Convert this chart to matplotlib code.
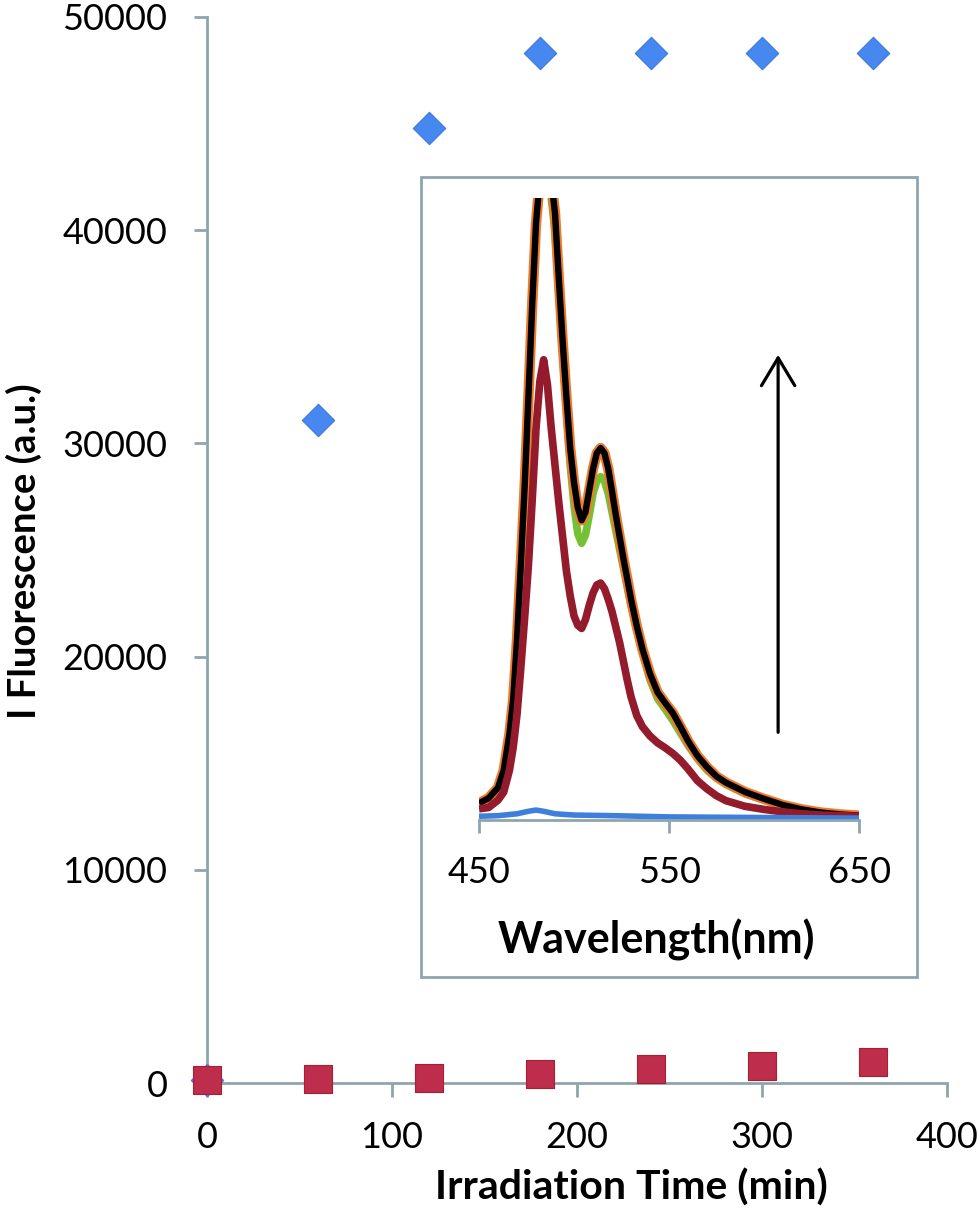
import matplotlib
matplotlib.use('Agg')
import matplotlib.pyplot as plt
from matplotlib.patches import Rectangle

plt.rcParams['font.family'] = ['Lato', 'DejaVu Sans']

# main chart data
time_min = [0, 60, 120, 180, 240, 300, 360]
fluor_blue = [150, 31100, 44800, 48300, 48300, 48300, 48300]
fluor_red = [120, 170, 250, 420, 670, 800, 980]

# inset spectra
wavelength = [450, 455, 460, 463, 466, 468, 470, 472, 474, 476, 478, 480, 482, 484, 486, 488,
              490, 492, 494, 496, 498, 500, 502, 504, 506, 508, 510, 512, 514, 516, 518, 520,
              522, 524, 526, 528, 530, 533, 536, 540, 544, 548, 552, 556, 560, 565, 570, 575,
              580, 590, 600, 610, 620, 630, 640, 650]
spec_final = [27, 35, 52, 80, 138, 195, 290, 410, 535, 680, 830, 960, 1030, 1080, 1070, 1030,
              975, 870, 770, 680, 597, 542, 502, 482, 495, 530, 565, 590, 598, 590, 565, 528,
              490, 455, 420, 388, 355, 312, 275, 235, 205, 188, 172, 150, 127, 103, 85, 70,
              60, 45, 34, 24, 17, 12, 9, 7]
spec_green = [27, 35, 52, 80, 138, 195, 290, 410, 535, 680, 825, 950, 1010, 1050, 1040, 1000,
              945, 845, 750, 660, 570, 505, 460, 445, 458, 490, 525, 545, 552, 545, 525, 495,
              465, 435, 405, 375, 345, 305, 268, 225, 195, 178, 160, 140, 120, 98, 80, 67,
              57, 42, 32, 23, 16, 11, 8, 6]
spec_red = [18, 20, 32, 45, 80, 117, 170, 245, 325, 410, 515, 630, 705, 740, 700, 630,
            570, 510, 455, 400, 360, 328, 313, 308, 322, 345, 365, 378, 381, 372, 355, 335,
            310, 285, 255, 225, 198, 168, 150, 135, 124, 116, 107, 96, 82, 63, 50, 39,
            31, 22, 17, 13, 10, 8, 7, 6]
wl_blank = [450, 460, 470, 476, 480, 484, 490, 500, 520, 550, 600, 650]
spec_blank = [6, 7, 10, 14, 16, 14, 10, 8, 7, 5, 4, 3]

axis_gray = '#8fa5ae'

fig = plt.figure(figsize=(9.8, 12.15), dpi=100)
ax = fig.add_axes([0.2112, 0.10864, 0.7551, 0.87737])

ax.scatter(time_min, fluor_blue, marker='D', s=16.5**2, color='#4687f0',
           edgecolor='#3d79dc', linewidth=0.8, zorder=3, clip_on=False)
ax.scatter(time_min, fluor_red, marker='s', s=20**2, color='#be2d4b',
           edgecolor='#a8202f', linewidth=0.8, zorder=4, clip_on=False)

ax.set_xlim(0, 400)
ax.set_ylim(0, 50000)
ax.set_xticks([0, 100, 200, 300, 400])
ax.set_yticks([0, 10000, 20000, 30000, 40000, 50000])
for s in ['top', 'right']:
    ax.spines[s].set_visible(False)
for s in ['left', 'bottom']:
    ax.spines[s].set_color(axis_gray)
    ax.spines[s].set_linewidth(2)
ax.tick_params(axis='both', colors=axis_gray, width=2, labelsize=26, labelcolor='black')
ax.tick_params(axis='y', length=9.5, pad=19)
ax.tick_params(axis='x', length=10, pad=17)
ax.set_xlabel('Irradiation Time (min)', fontsize=29.5, fontweight='bold')
ax.set_ylabel('I Fluorescence (a.u.)', fontsize=27.5, fontweight='bold')
ax.xaxis.set_label_coords(0.574, -0.0985)
ax.yaxis.set_label_coords(-0.247, 0.499)
ax.xaxis.label.set_va('center')
ax.yaxis.label.set_va('center')

# inset frame
frame = Rectangle((0.4296, 0.1959), 0.5061, 0.6584, transform=fig.transFigure,
                  facecolor='white', edgecolor=axis_gray, linewidth=2, zorder=5)
fig.patches.append(frame)

ins = fig.add_axes([0.4888, 0.3251, 0.3878, 0.5119])
ins.set_zorder(6)
ins.patch.set_alpha(0)
ins.plot(wavelength, spec_green, color='#74c234', lw=5.5, solid_capstyle='butt')
ins.plot(wavelength, spec_final, color='#ef7a2c', lw=7.5, solid_capstyle='butt')
ins.plot(wavelength, spec_final, color='black', lw=4.6, solid_capstyle='butt')
ins.plot(wavelength, spec_red, color='#931b2b', lw=5.5, solid_capstyle='butt')
ins.plot(wl_blank, spec_blank, color='#3f7fdc', lw=4, solid_capstyle='butt')
ins.annotate('', xy=(607.4, 748), xytext=(607.4, 141),
             arrowprops=dict(arrowstyle='->,head_length=0.4,head_width=0.24',
                             mutation_scale=50, lw=2.3, color='black',
                             shrinkA=0, shrinkB=0))
ins.set_xlim(450, 650)
ins.set_ylim(0, 1000)
ins.set_xticks([450, 550, 650])
ins.set_yticks([])
for s in ['top', 'right', 'left']:
    ins.spines[s].set_visible(False)
ins.spines['bottom'].set_color(axis_gray)
ins.spines['bottom'].set_linewidth(2)
ins.tick_params(axis='x', colors=axis_gray, width=2, length=9, pad=17,
                labelsize=26, labelcolor='black')
ins.set_xlabel('Wavelength(nm)', fontsize=31, fontweight='bold')
ins.xaxis.set_label_coords(0.468, -0.193)
ins.xaxis.label.set_va('center')

fig.savefig('out.png', dpi=100)
